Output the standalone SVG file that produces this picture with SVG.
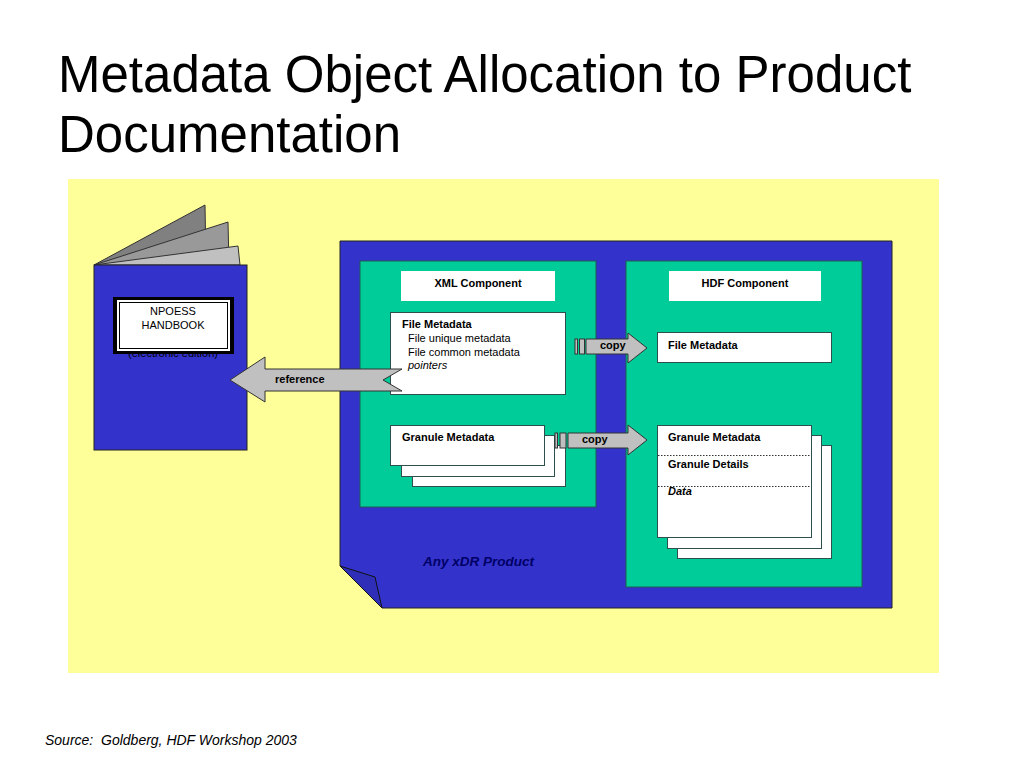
<svg xmlns="http://www.w3.org/2000/svg" width="1024" height="768" viewBox="0 0 1024 768">
<style>
text{font-family:"Liberation Sans",Arial,sans-serif;}
.title{font-size:51px;fill:#000;}
.s{font-size:11px;fill:#000;}
.b{font-weight:bold;}
.i{font-style:italic;}
.box{fill:#fff;stroke:#2f4f4f;stroke-width:1;}
.green{fill:#00CC99;stroke:#1f5f4f;stroke-width:1;}
.arrow{fill:#C0C0C0;stroke:#333;stroke-width:1;}
.dot{stroke:#333;stroke-width:1;stroke-dasharray:1.5 1.5;}
</style>
<rect width="1024" height="768" fill="#fff"/>
<text class="title" x="58" y="92">Metadata Object Allocation to Product</text>
<text class="title" x="58" y="152">Documentation</text>
<rect x="68" y="179" width="871" height="494" fill="#FFFF99"/>

<g id="handbook">
  <polygon points="94,265 205,205 206,265" fill="#808080" stroke="#333" stroke-width="1"/>
  <polygon points="94,265 228,222 229,265" fill="#999999" stroke="#333" stroke-width="1"/>
  <polygon points="94,265 238,246 240,265" fill="#C0C0C0" stroke="#333" stroke-width="1"/>
  <rect x="94" y="265" width="153" height="185" fill="#3333CC" stroke="#222" stroke-width="1"/>
  <text class="s" x="173" y="357" text-anchor="middle" fill="#1a1a55">(electronic edition)</text>
  <rect x="113" y="297" width="121" height="57" fill="#000"/>
  <rect x="117" y="300" width="113" height="51" fill="#fff"/>
  <rect x="119.5" y="302.5" width="108" height="46" fill="#fff" stroke="#000" stroke-width="1"/>
  <text class="s" x="173" y="315" text-anchor="middle">NPOESS</text>
  <text class="s" x="173" y="329" text-anchor="middle">HANDBOOK</text>
</g>

<g id="xdr-product">
  <polygon points="340,241 892,241 892,608 382,608 340,566" fill="#3333CC" stroke="#222" stroke-width="1"/>
  <polygon points="340,566 375,577 382,608" fill="#2e2eb8" stroke="#111" stroke-width="1"/>
  <text x="423" y="566" font-size="13.5" font-weight="bold" font-style="italic" fill="#000066">Any xDR Product</text>
</g>

<g id="xml-component">
  <rect class="green" x="360" y="261" width="236" height="246"/>
  <rect x="401" y="271" width="154" height="30" fill="#fff"/>
  <text class="s b" x="478" y="287" text-anchor="middle">XML Component</text>
</g>

<g id="hdf-component">
  <rect class="green" x="626" y="261" width="236" height="326"/>
  <rect x="669" y="271" width="152" height="30" fill="#fff"/>
  <text class="s b" x="745" y="287" text-anchor="middle">HDF Component</text>
</g>

<g id="xml-file-metadata">
  <rect class="box" x="390.5" y="312.5" width="175" height="82"/>
  <text class="s b" x="402" y="328">File Metadata</text>
  <text class="s" x="408" y="342">File unique metadata</text>
  <text class="s" x="408" y="356">File common metadata</text>
  <text class="s i" x="408" y="369">pointers</text>
</g>

<g id="xml-granule-metadata">
  <rect class="box" x="412.5" y="445.5" width="153" height="41"/>
  <rect class="box" x="401.5" y="435.5" width="153" height="41"/>
  <rect class="box" x="390.5" y="425.5" width="154" height="40"/>
  <text class="s b" x="402" y="441">Granule Metadata</text>
</g>

<g id="hdf-file-metadata">
  <rect class="box" x="657.5" y="332.5" width="174" height="30"/>
  <text class="s b" x="668" y="349">File Metadata</text>
</g>

<g id="hdf-granule-metadata">
  <rect class="box" x="677.5" y="445.5" width="154" height="113"/>
  <rect class="box" x="667.5" y="435.5" width="154" height="113"/>
  <rect class="box" x="657.5" y="425.5" width="154" height="112"/>
  <line class="dot" x1="658" y1="455.5" x2="811" y2="455.5"/>
  <line class="dot" x1="658" y1="486.5" x2="811" y2="486.5"/>
  <text class="s b" x="668" y="441">Granule Metadata</text>
  <text class="s b" x="668" y="468">Granule Details</text>
  <text class="s b i" x="668" y="495">Data</text>
</g>

<g id="connectors">
  <g id="reference-arrow">
    <polygon class="arrow" points="230,380 265,357 265,369 402,369 383,380 402,391 265,391 265,402"/>
    <text class="s b" x="275" y="383">reference</text>
  </g>
  <g id="copy-file">
    <rect class="arrow" x="575" y="339" width="2.5" height="15"/>
    <rect class="arrow" x="579.5" y="339" width="5" height="15"/>
    <polygon class="arrow" points="586,339 628,339 628,333 647,348 628,363 628,354 586,354"/>
    <text class="s b" x="600" y="349">copy</text>
  </g>
  <g id="copy-granule">
    <rect class="arrow" x="555" y="433" width="2.5" height="15"/>
    <rect class="arrow" x="560" y="433" width="6" height="15"/>
    <polygon class="arrow" points="568,433 628,433 628,425 647,440 628,455 628,448 568,448"/>
    <text class="s b" x="582" y="443">copy</text>
  </g>
</g>

<text x="45" y="745" font-size="14" font-style="italic" fill="#000">Source:&#160; Goldberg, HDF Workshop 2003</text>
</svg>
